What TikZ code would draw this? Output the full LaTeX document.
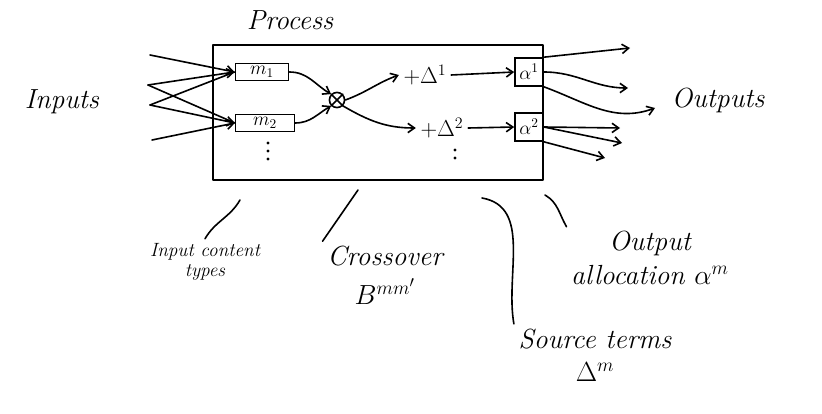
\documentclass[tikz,border=0pt]{standalone}
\usetikzlibrary{arrows.meta}
\begin{document}
\begin{tikzpicture}[x=0.75pt,y=-0.75pt,
  pen/.style={line width=1.2pt,line cap=round,line join=round},
  arr/.style={pen,-{Straight Barb[length=5pt,width=7pt]}},
  lbl/.style={font=\huge\itshape,align=center},
  bx/.style={draw,line width=1.2pt,inner sep=1pt,font=\Large},
  dot/.style={fill,circle,inner sep=0.8pt}]
\useasboundingbox (0,0) rectangle (822,414);
\node[lbl] (proc) at (290,20) {Process};
\draw[pen] (213,45) rectangle (543,180);
\node[bx,minimum width=40pt,minimum height=13pt] (m1) at (262,72) {$m_1$};
\node[bx,minimum width=44pt,minimum height=13pt] (m2) at (265,123) {$m_2$};
\node[dot] (p1) at (268,143) {}; \node[dot] (p2) at (268,151) {}; \node[dot] (p3) at (268,159) {};
\node[draw,pen,circle,inner sep=4pt] (x) at (337,100) {};
\draw[pen] (x.north west)--(x.south east) (x.north east)--(x.south west);
\node[font=\LARGE] (d1) at (425,75) {$+\Delta^1$};
\node[font=\LARGE] (d2) at (442,128) {$+\Delta^2$};
\node[dot] (q1) at (455,150) {}; \node[dot] (q2) at (455,158) {};
\node[bx,minimum size=21pt] (a1) at (529,72) {$\alpha^1$};
\node[bx,minimum size=21pt] (a2) at (529,127) {$\alpha^2$};
\draw[arr] (m1.east) to[out=0,in=150] (x.north west);
\draw[arr] (m2.east) to[out=0,in=210] (x.south west);
\draw[arr] (x.east) to[out=20,in=200] (d1.west);
\draw[arr] (x.south east) to[out=-30,in=180] (d2.west);
\draw[arr] (d1.east) -- (a1.west);
\draw[arr] (d2.east) -- (a2.west);
\node[lbl] (in) at (62,102) {Inputs};
\coordinate (i1) at (150,55); \coordinate (i2) at (148,85);
\coordinate (i3) at (150,105); \coordinate (i4) at (152,140);
\draw[arr] (i1) -- (m1.west); \draw[arr] (i2) -- (m1.west);
\draw[arr] (i3) -- (m2.west); \draw[arr] (i4) -- (m2.west);
\draw[pen] (i2) -- (m2.west); \draw[pen] (i3) -- (m1.west);
\node[lbl] (out) at (718,100) {Outputs};
\coordinate (o1) at (630,48); \coordinate (o2) at (628,88);
\coordinate (o3) at (655,108); \coordinate (o4) at (620,128);
\coordinate (o5) at (622,143); \coordinate (o6) at (605,158);
\draw[arr] (a1.north east) -- (o1);
\draw[arr] (a1.east) to[out=0,in=180] (o2);
\draw[arr] (a1.south east) to[out=-20,in=200] (o3);
\draw[arr] (a2.east) -- (o4);
\draw[arr] (a2.east) -- (o5);
\draw[arr] (a2.south east) -- (o6);
\node[lbl,font=\Large\itshape] (ict) at (205,262) {Input content\\[-3pt]types};
\draw[pen] (240,200) to[out=240,in=60] (ict.north);
\node[lbl] (cr) at (385,275) {Crossover\\[4pt]$B^{mm'}$};
\draw[pen] (358,190) -- (cr.north west);
\node[lbl] (st) at (595,355) {Source terms\\$\Delta^{m}$};
\draw[pen] (482,198) to[out=-10,in=100] (st.north west);
\node[lbl] (oa) at (650,258) {Output\\allocation $\alpha^{m}$};
\draw[pen] (545,195) to[out=-30,in=120] (oa.north west);
\end{tikzpicture}
\end{document}
